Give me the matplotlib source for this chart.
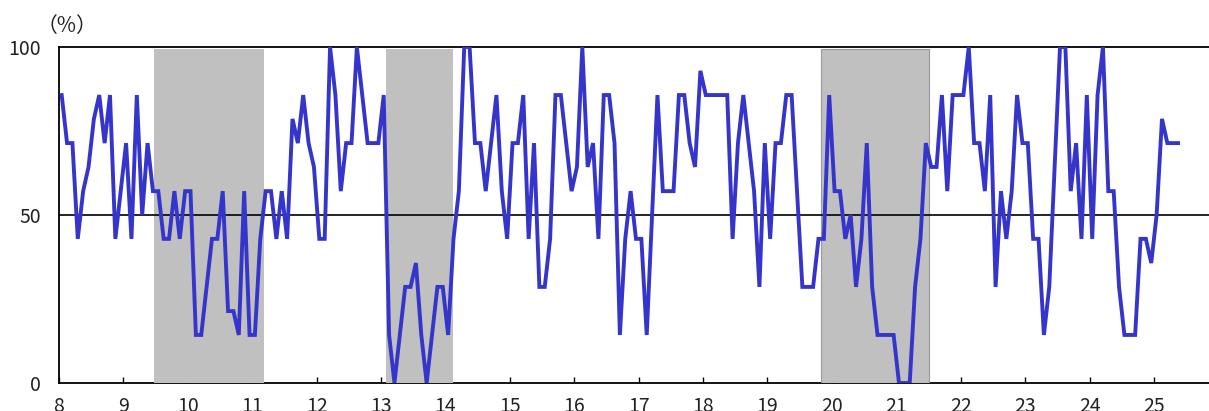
import numpy as np
import matplotlib
matplotlib.use("Agg")
import matplotlib.pyplot as plt

plt.rcParams['font.family'] = ['Noto Sans CJK JP', 'DejaVu Sans']

# monthly diffusion index (%), from Jan of year 8
di_08 = [85.7, 71.4, 71.4, 42.9, 57.1, 64.3, 78.6, 85.7, 71.4, 85.7, 42.9, 57.1]
di_09 = [71.4, 42.9, 85.7, 50.0, 71.4, 57.1, 57.1, 42.9, 42.9, 57.1, 42.9, 57.1]
di_10 = [57.1, 14.3, 14.3, 28.6, 42.9, 42.9, 57.1, 21.4, 21.4, 14.3, 57.1, 14.3]
di_11 = [14.3, 42.9, 57.1, 57.1, 42.9, 57.1, 42.9, 78.6, 71.4, 85.7, 71.4, 64.3]
di_12 = [42.9, 42.9, 100.0, 85.7, 57.1, 71.4, 71.4, 100.0, 85.7, 71.4, 71.4, 71.4]
di_13 = [85.7, 14.3, 0.0, 14.3, 28.6, 28.6, 35.7, 14.3, 0.0, 14.3, 28.6, 28.6]
di_14 = [14.3, 42.9, 57.1, 100.0, 100.0, 71.4, 71.4, 57.1, 71.4, 85.7, 57.1, 42.9]
di_15 = [71.4, 71.4, 85.7, 42.9, 71.4, 28.6, 28.6, 42.9, 85.7, 85.7, 71.4, 57.1]
di_16 = [64.3, 100.0, 64.3, 71.4, 42.9, 85.7, 85.7, 71.4, 14.3, 42.9, 57.1, 42.9]
di_17 = [42.9, 14.3, 50.0, 85.7, 57.1, 57.1, 57.1, 85.7, 85.7, 71.4, 64.3, 92.9]
di_18 = [85.7, 85.7, 85.7, 85.7, 85.7, 42.9, 71.4, 85.7, 71.4, 57.1, 28.6, 71.4]
di_19 = [42.9, 71.4, 71.4, 85.7, 85.7, 57.1, 28.6, 28.6, 28.6, 42.9, 42.9, 85.7]
di_20 = [57.1, 57.1, 42.9, 50.0, 28.6, 42.9, 71.4, 28.6, 14.3, 14.3, 14.3, 14.3]
di_21 = [0.0, 0.0, 0.0, 28.6, 42.9, 71.4, 64.3, 64.3, 85.7, 57.1, 85.7, 85.7]
di_22 = [85.7, 100.0, 71.4, 71.4, 57.1, 85.7, 28.6, 57.1, 42.9, 57.1, 85.7, 71.4]
di_23 = [71.4, 42.9, 42.9, 14.3, 28.6, 64.3, 100.0, 100.0, 57.1, 71.4, 42.9, 85.7]
di_24 = [42.9, 85.7, 100.0, 57.1, 57.1, 28.6, 14.3, 14.3, 14.3, 42.9, 42.9, 35.7]
di_25 = [50.0, 78.6, 71.4, 71.4, 71.4]

# shaded periods (recessions), in axis years
shade_start = [9.48, 13.08, 19.83]
shade_end = [11.19, 14.11, 21.51]

years = list(range(8, 26))
year_labels = [str(y) for y in years]

di = np.array(di_08 + di_09 + di_10 + di_11 + di_12 + di_13 + di_14 + di_15 + di_16
              + di_17 + di_18 + di_19 + di_20 + di_21 + di_22 + di_23 + di_24 + di_25)
x = 8 + (np.arange(len(di)) + 0.5) / 12

fig = plt.figure(figsize=(12.09, 4.11), dpi=100)
ax = fig.add_axes([59 / 1209, 1 - 383 / 411, 1 - 59 / 1209, (383 - 47) / 411])

for s, e, i in zip(shade_start, shade_end, range(3)):
    ax.axvspan(s, e, ymin=0, ymax=0.994, facecolor='#c0c0c0',
               edgecolor='#999999' if i == 2 else 'none', linewidth=0.8, zorder=3)

ax.axhline(50, color='black', linewidth=1.2, zorder=3.5)
ax.plot(x, di, color='#3535cc', linewidth=2.8, zorder=4, solid_joinstyle='miter')

ax.set_xlim(8, 25.855)
ax.set_ylim(0, 100)
ax.set_xticks(years)
ax.set_xticklabels(year_labels)
ax.set_yticks([0, 50, 100])
ax.set_yticklabels(['0', '50', '100'])

ax.spines['right'].set_visible(False)
for side in ['left', 'top', 'bottom']:
    ax.spines[side].set_linewidth(1.3)
    ax.spines[side].set_color('black')

ax.tick_params(axis='x', direction='in', length=4, width=1, pad=9,
               labelsize=14, labelcolor='#222222')
ax.tick_params(axis='y', length=0, pad=13, labelsize=14, labelcolor='#222222')

fig.text(67 / 1209, 1 - 26 / 411, '（%）', ha='center', va='center', fontsize=15,
         color='#222222')

fig.savefig('out.png', dpi=100)
